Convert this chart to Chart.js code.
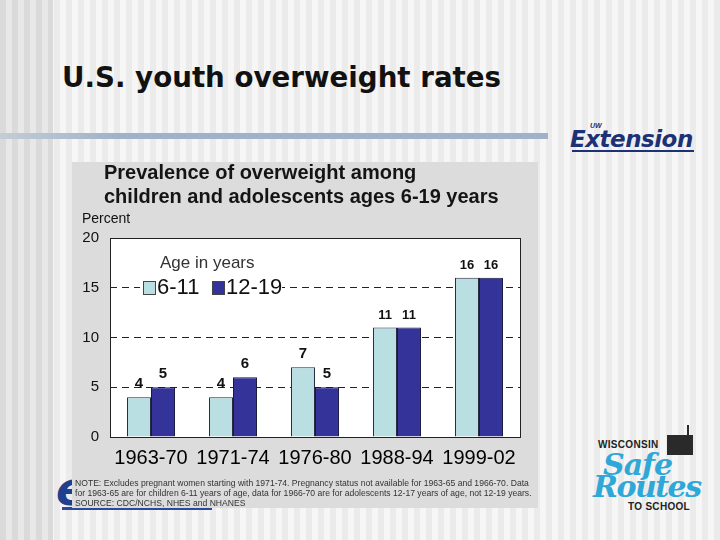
<!DOCTYPE html>
<html>
<head>
<meta charset="utf-8">
<script src="https://cdn.jsdelivr.net/npm/chart.js@4.4.1/dist/chart.umd.min.js"></script>
<style>
  html, body { margin: 0; padding: 0; }
  body {
    width: 720px; height: 540px; position: relative; overflow: hidden;
    font-family: "Liberation Sans", Arial, sans-serif;
    background: repeating-linear-gradient(90deg, #f6f6f6 0px, #f6f6f6 6px, #ebebeb 6px, #ebebeb 12px);
  }
  #leftStripes {
    position: absolute; left: 0; top: 0; width: 53px; height: 540px;
    background: repeating-linear-gradient(90deg, #dadada 0px, #dadada 6px, #e8e8e8 6px, #e8e8e8 12px);
  }
  #slideTitle {
    position: absolute; left: 62px; top: 61px;
    font-family: "DejaVu Sans", Verdana, sans-serif; font-weight: bold; font-size: 27.7px;
    color: #111; white-space: nowrap;
  }
  #rule {
    position: absolute; left: 0; top: 133px; width: 548px; height: 6px;
    background: linear-gradient(90deg, #c4ccd6 0px, #9fb2c9 120px, #9fb2c9 548px);
  }
  #uwLogo { position: absolute; left: 568px; top: 122px; width: 130px; height: 32px; }
  #uwLogo .uw { position: absolute; left: 22px; top: 0px; font-size: 7px; font-weight: bold; color: #1d2f6b; font-style: italic; }
  #uwLogo .ext {
    position: absolute; left: 2px; top: 4px; font-size: 23px; font-weight: bold; font-style: italic;
    color: #1d3276; letter-spacing: -0.5px; font-family: "DejaVu Sans", sans-serif;
  }
  #uwLogo .bar { position: absolute; left: 4px; top: 28px; width: 122px; height: 2px; background: #1d3276; }
  #backLogo {
    position: absolute; left: 56px; top: 462px; font-size: 46px; font-weight: bold; font-style: italic;
    color: #1f3f8f; font-family: "DejaVu Sans", sans-serif;
  }
  #backLine { position: absolute; left: 62px; top: 507px; width: 150px; height: 3px; background: #2a4a9a; }
  #panel {
    position: absolute; left: 72px; top: 162px; width: 466px; height: 346px; background: #dcdcdc;
  }
  #panelTitle {
    position: absolute; left: 32px; top: -2px; font-size: 20px; font-weight: bold; line-height: 24px;
    color: #141414; white-space: nowrap;
  }
  #chartBox { position: absolute; left: 0; top: 0; width: 466px; height: 346px; }
  #note {
    position: absolute; left: 3px; top: 316px; font-size: 8.6px; line-height: 10px; color: #333;
    white-space: nowrap;
  }
  #srts { position: absolute; left: 585px; top: 425px; width: 130px; height: 100px; }
  #srts .wis { position: absolute; left: 13px; top: 14px; font-size: 10px; font-weight: bold; color: #222; letter-spacing: 0.3px; }
  #srts .bld { position: absolute; left: 82px; top: 10px; width: 26px; height: 20px; background: #2a2a2a; }
  #srts .flag { position: absolute; left: 102px; top: 0px; width: 2px; height: 12px; background: #2a2a2a; }
  #srts .safe {
    position: absolute; left: 18px; top: 22px; font-size: 30px; font-weight: bold; font-style: italic;
    color: #2fa8d8; font-family: "DejaVu Serif", serif; letter-spacing: -1px;
  }
  #srts .routes {
    position: absolute; left: 8px; top: 44px; font-size: 30px; font-weight: bold; font-style: italic;
    color: #2fa8d8; font-family: "DejaVu Serif", serif; letter-spacing: -1.5px;
  }
  #srts .ts { position: absolute; left: 43px; top: 76px; font-size: 10px; font-weight: bold; color: #222; letter-spacing: 0.3px; }
</style>
</head>
<body>
<div id="leftStripes"></div>
<div id="slideTitle">U.S. youth overweight rates</div>
<div id="rule"></div>
<div id="uwLogo"><span class="uw">UW</span><span class="ext">Extension</span><div class="bar"></div></div>
<div id="backLogo">e</div>
<div id="backLine"></div>

<div id="panel">
  <div id="chartBox"><canvas id="obChart"></canvas></div>
  <div id="panelTitle">Prevalence of overweight among<br>children and adolescents ages 6-19 years</div>
  <div id="note">NOTE: Excludes pregnant women starting with 1971-74. Pregnancy status not available for 1963-65 and 1966-70. Data<br>for 1963-65 are for children 6-11 years of age, data for 1966-70 are for adolescents 12-17 years of age, not 12-19 years.<br>SOURCE: CDC/NCHS, NHES and NHANES</div>
</div>

<div id="srts">
  <div class="wis">WISCONSIN</div>
  <div class="flag"></div>
  <div class="bld"></div>
  <div class="safe">Safe</div>
  <div class="routes">Routes</div>
  <div class="ts">TO SCHOOL</div>
</div>

<script>
const periods = ['1963-70', '1971-74', '1976-80', '1988-94', '1999-02'];
const ages6to11 = [4, 4, 7, 11, 16];
const ages12to19 = [5, 6, 5, 11, 16];
const yTicks = [0, 5, 10, 15, 20];
const seriesNames = ['6-11', '12-19'];
const legendTitle = 'Age in years';
const yTitle = 'Percent';

const lightColor = '#b9dfe3';
const darkColor = '#333399';

// white plot area plus the frame around it
const plotFrame = {
    id: 'plotFrame',
    beforeDraw(chart) {
        const a = chart.chartArea;
        const ctx = chart.ctx;
        ctx.save();
        ctx.fillStyle = '#ffffff';
        ctx.fillRect(a.left, a.top, a.right - a.left, a.bottom - a.top);
        ctx.restore();
    },
    afterDraw(chart) {
        const a = chart.chartArea;
        const ctx = chart.ctx;
        ctx.save();
        ctx.strokeStyle = '#222';
        ctx.lineWidth = 1;
        ctx.strokeRect(Math.round(a.left) + 0.5, Math.round(a.top) + 0.5,
            Math.round(a.right - a.left), Math.round(a.bottom - a.top));
        // y axis title
        ctx.fillStyle = '#111';
        ctx.font = '14px "Liberation Sans", Arial, sans-serif';
        ctx.textBaseline = 'middle';
        ctx.fillText(yTitle, 10, a.top - 19);
        ctx.restore();
    }
};

// value labels above each bar
const barValues = {
    id: 'barValues',
    afterDatasetsDraw(chart) {
        const ctx = chart.ctx;
        ctx.save();
        ctx.fillStyle = '#111';
        ctx.textAlign = 'center';
        ctx.textBaseline = 'bottom';
        chart.data.datasets.forEach((ds, i) => {
            chart.getDatasetMeta(i).data.forEach((bar, j) => {
                const v = ds.data[j];
                ctx.font = (v < 10 ? 'bold 15px ' : 'bold 13px ') + '"Liberation Sans", Arial, sans-serif';
                ctx.fillText(v, bar.x, bar.y - 6);
            });
        });
        ctx.restore();
    }
};

// legend sitting inside the plot
const innerLegend = {
    id: 'innerLegend',
    afterDraw(chart) {
        const a = chart.chartArea;
        const ctx = chart.ctx;
        const x0 = a.left + 30;
        const y0 = a.top + 25;
        ctx.save();
        ctx.fillStyle = '#ffffff';
        ctx.fillRect(x0, y0 + 14, 142, 20);
        ctx.fillStyle = '#333';
        ctx.font = '17px "Liberation Sans", Arial, sans-serif';
        ctx.textBaseline = 'middle';
        ctx.fillText(legendTitle, x0 + 20, y0);
        ctx.font = '22px "Liberation Sans", Arial, sans-serif';
        let x = x0 + 3;
        chart.data.datasets.forEach((ds) => {
            ctx.fillStyle = ds.backgroundColor;
            ctx.fillRect(x, y0 + 18, 12, 13);
            ctx.strokeStyle = '#444';
            ctx.lineWidth = 1;
            ctx.strokeRect(x + 0.5, y0 + 18.5, 12, 13);
            ctx.fillStyle = '#111';
            ctx.fillText(ds.label, x + 14, y0 + 25);
            x += 69;
        });
        ctx.restore();
    }
};

const ctx = document.getElementById('obChart').getContext('2d');
const obChart = new Chart(ctx, {
    type: 'bar',
    data: {
        labels: periods,
        datasets: [{
            label: seriesNames[0],
            data: ages6to11,
            backgroundColor: lightColor,
            borderColor: '#2a2a40',
            borderWidth: 1
        }, {
            label: seriesNames[1],
            data: ages12to19,
            backgroundColor: darkColor,
            borderColor: '#1a1a40',
            borderWidth: 1
        }]
    },
    options: {
        responsive: true,
        maintainAspectRatio: false,
        animation: false,
        datasets: {
            bar: { categoryPercentage: 0.585, barPercentage: 1 }
        },
        layout: {
            padding: { left: 0, top: 76, right: 18, bottom: 31 }
        },
        plugins: {
            legend: { display: false },
            title: { display: false },
            tooltip: { enabled: false }
        },
        scales: {
            x: {
                grid: { display: false },
                border: { display: false },
                ticks: {
                    color: '#000',
                    padding: 1,
                    maxRotation: 0,
                    font: { size: 20, family: '"Liberation Sans", Arial, sans-serif' }
                },
                afterFit(scale) { scale.height = 40; }
            },
            y: {
                min: 0,
                max: 20,
                afterBuildTicks(scale) { scale.ticks = yTicks.map(v => ({ value: v })); },
                grid: {
                    drawTicks: false,
                    color: (c) => (c.tick && (c.tick.value === 0 || c.tick.value === 20)) ? 'rgba(0,0,0,0)' : '#222',
                    lineWidth: 1
                },
                border: { display: false, dash: [7, 5] },
                ticks: {
                    color: '#111',
                    padding: 11,
                    font: { size: 15, family: '"Liberation Sans", Arial, sans-serif' }
                },
                afterFit(scale) { scale.width = 38; }
            }
        }
    },
    plugins: [plotFrame, barValues, innerLegend]
});
</script>
</body>
</html>
